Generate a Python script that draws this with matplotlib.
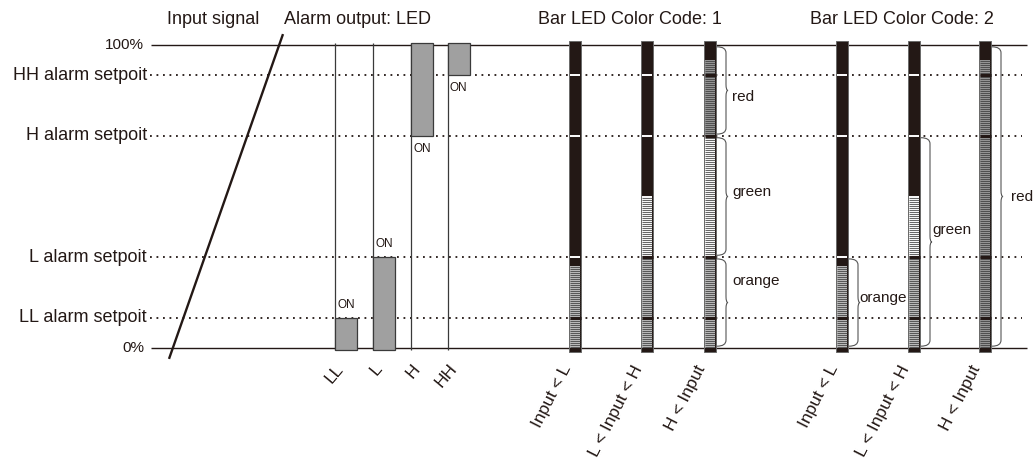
import numpy as np
import matplotlib.pyplot as plt
from matplotlib.patches import Rectangle, PathPatch
from matplotlib.path import Path

plt.rcParams['font.family'] = ['Liberation Sans', 'DejaVu Sans']

INK = '#231815'

# ---- data ----
setpoint_names = ['LL alarm setpoit', 'L alarm setpoit', 'H alarm setpoit', 'HH alarm setpoit']
setpoint_values = [10, 30, 70, 90]

alarm_names = ['LL', 'L', 'H', 'HH']
alarm_on_from = [0, 0, 70, 90]
alarm_on_to = [10, 30, 100, 100]

led_states = ['Input < L', 'L < Input < H', 'H < Input']
led_input_levels = [27, 50, 95]

# lit colour zones per bar (from %, to %, colour)
code1_zones = [
    [(0, 30, 'orange'), (30, 70, 'green'), (70, 100, 'red')],
    [(0, 30, 'orange'), (30, 70, 'green'), (70, 100, 'red')],
    [(0, 30, 'orange'), (30, 70, 'green'), (70, 100, 'red')],
]
code2_zones = [
    [(0, 100, 'orange')],
    [(0, 30, 'orange'), (30, 100, 'green')],
    [(0, 100, 'red')],
]
# braces: (bar index, from %, to %, colour name)
code1_braces = [(2, 70, 100, 'red'), (2, 30, 70, 'green'), (2, 0, 30, 'orange')]
code2_braces = [(0, 0, 30, 'orange'), (1, 0, 70, 'green'), (2, 0, 100, 'red')]

# ---- layout ----
PX = 3.03           # pixels per percent
alarm_x = [335, 373, 411, 448]
alarm_w = 22
code1_x = [575, 647, 710]
code2_x = [842, 914, 985]
led_w = 12
shade = {'orange': '#b8b8b8', 'green': '#f6f6f6', 'red': '#949494'}
code1_label_shift = [(6, -2), (6, 1.5), (6, 7)]
code2_label_shift = [(1, 1.5), (2, 4), (10, 0)]

fig = plt.figure(figsize=(10.33, 4.69), dpi=100)
ax = fig.add_axes([0, 0, 1, 1])
ax.set_xlim(0, 1033)
ax.set_ylim((348 - 469) / PX, 348 / PX)
ax.axis('off')

# reference lines
ax.hlines([0, 100], 151, 1027, color=INK, lw=1.0, zorder=1)
ax.hlines(setpoint_values, 150, 1022, color=INK, lw=1.3,
          linestyles=[(0, (1, 2.6))], zorder=1)
ax.text(144, 100, '100%', ha='right', va='center', fontsize=11, color=INK)
ax.text(144, 0, '0%', ha='right', va='center', fontsize=11, color=INK)
for name, v in zip(setpoint_names, setpoint_values):
    ax.text(147, v, name, ha='right', va='center', fontsize=13, color=INK)

# input signal ramp
ax.plot([169, 283], [-3.6, 103.6], color=INK, lw=1.7, solid_capstyle='butt', zorder=2)

# titles
for x, t in zip([213, 357, 630, 902],
                ['Input signal', 'Alarm output: LED', 'Bar LED Color Code: 1', 'Bar LED Color Code: 2']):
    ax.text(x, 348 / PX - 20 / PX, t, ha='center', va='center', fontsize=13, color=INK)

# alarm outputs
ax.vlines(alarm_x, -0.8, 100.8, color='#3a3a3a', lw=0.9, zorder=2)
for i, name in enumerate(alarm_names):
    x = alarm_x[i]
    lo, hi = alarm_on_from[i], alarm_on_to[i]
    lo_d = lo - 0.8 if lo == 0 else lo
    hi_d = hi + 0.8 if hi == 100 else hi
    ax.add_patch(Rectangle((x, lo_d), alarm_w, hi_d - lo_d, facecolor='#a0a0a0',
                           edgecolor='#3a3a3a', lw=0.9, zorder=3))
    if lo == 0:
        ax.text(x + 2, hi + 2.2, 'ON', ha='left', va='bottom', fontsize=8.5, color=INK)
    else:
        ax.text(x + 2, lo - 2.2, 'ON', ha='left', va='top', fontsize=8.5, color=INK)
    ax.text(x + 6, -6, name, ha='right', va='center', rotation=50,
            rotation_mode='anchor', fontsize=12.5, color=INK)


def draw_led(xc, level, zones):
    x0 = xc - led_w / 2
    ax.add_patch(Rectangle((x0, -1.2), led_w, 102.4, facecolor=INK,
                           edgecolor='#6a6a6a', lw=0.7, zorder=3))
    pitch = 0.66
    for lo, hi, col in zones:
        top = min(hi, level)
        if top <= lo:
            continue
        ax.add_patch(Rectangle((x0 + 0.8, lo), led_w - 1.6, top - lo,
                               facecolor=shade[col], edgecolor='none', zorder=4))
        ys = np.arange(lo + pitch / 2, top, pitch)
        ax.hlines(ys, x0 + 0.8, x0 + led_w - 0.8, color='#3c3c3c', lw=0.55, zorder=5)
    for v in setpoint_values:
        if v < level:
            ax.hlines(v, x0 + 0.5, x0 + led_w - 0.5, color=INK, lw=2.2, zorder=6)
        else:
            ax.hlines(v, x0 + 1.0, x0 + led_w - 1.0, color='white', lw=1.4, zorder=6)


def draw_brace(xc, lo, hi, label, shift):
    x0 = xc + led_w / 2 + 1
    x1 = x0 + 9
    ry = 6 / PX
    top, bot = hi - 0.6, lo + 0.6
    mid = (top + bot) / 2
    verts = [(x0, top), (x1, top), (x1, top - ry),
             (x1, mid + ry), (x1, mid), (x1 + 2, mid),
             (x1, mid), (x1, mid - ry),
             (x1, bot + ry), (x1, bot), (x0, bot)]
    codes = [Path.MOVETO, Path.CURVE3, Path.CURVE3,
             Path.LINETO, Path.CURVE3, Path.CURVE3,
             Path.CURVE3, Path.CURVE3,
             Path.LINETO, Path.CURVE3, Path.CURVE3]
    ax.add_patch(PathPatch(Path(verts, codes), facecolor='none',
                           edgecolor='#555555', lw=0.8, zorder=3))
    ax.text(x1 + shift[0], mid + shift[1], label, ha='left', va='center',
            fontsize=11, color=INK)


for xs, zones_list in [(code1_x, code1_zones), (code2_x, code2_zones)]:
    for xc, level, zones, state in zip(xs, led_input_levels, zones_list, led_states):
        draw_led(xc, level, zones)
        ax.text(xc - led_w / 2 - 2, -6, state, ha='right', va='center', rotation=63,
                rotation_mode='anchor', fontsize=12.5, color=INK)

for (i, lo, hi, name), sh in zip(code1_braces, code1_label_shift):
    draw_brace(code1_x[i], lo, hi, name, sh)
for (i, lo, hi, name), sh in zip(code2_braces, code2_label_shift):
    draw_brace(code2_x[i], lo, hi, name, sh)

fig.savefig('out.png', dpi=100)
